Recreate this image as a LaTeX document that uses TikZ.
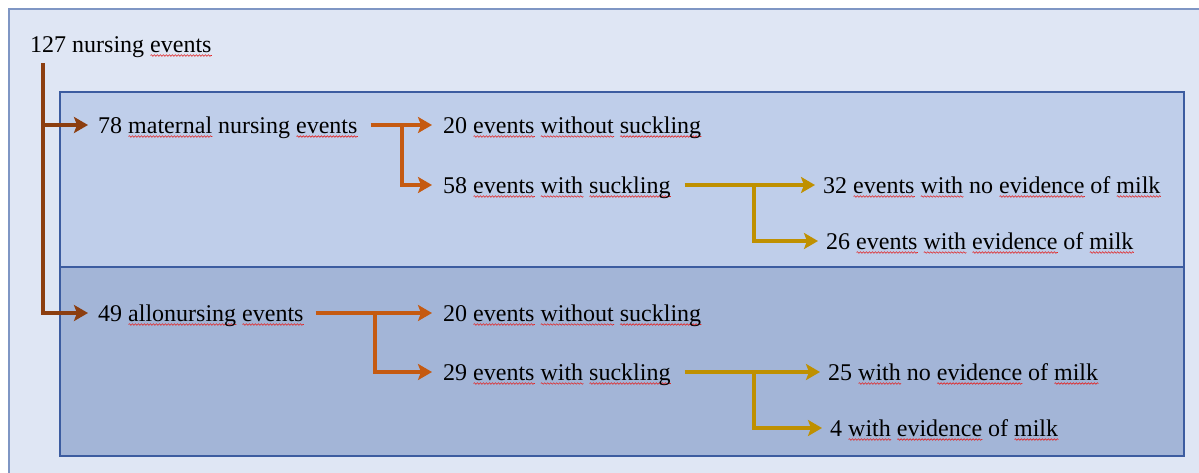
\documentclass[tikz,border=0pt]{standalone}
\usepackage{fontspec}
\setmainfont{Liberation Serif}
\newfontfamily\lblfont{Liberation Serif}
\usetikzlibrary{arrows.meta,decorations.pathmorphing}
\definecolor{outerbg}{RGB}{223,230,244}
\definecolor{outerline}{RGB}{127,150,196}
\definecolor{upperbg}{RGB}{191,206,234}
\definecolor{lowerbg}{RGB}{163,181,215}
\definecolor{boxline}{RGB}{60,92,160}
\definecolor{brownarr}{RGB}{140,62,16}
\definecolor{orangearr}{RGB}{197,90,17}
\definecolor{goldarr}{RGB}{191,144,0}
\definecolor{spellred}{RGB}{225,40,40}
\newsavebox\sqbox
\newlength\sqw
\newcommand{\sq}[1]{\sbox\sqbox{#1}\setlength\sqw{\wd\sqbox}\rlap{\tikz[baseline=0pt,x=1pt,y=1pt]\draw[spellred,line width=0.6pt,decorate,decoration={snake,amplitude=0.8pt,segment length=3pt}] (0,-3.5) -- (\sqw,-3.5);}\usebox\sqbox}
\begin{document}
\begin{tikzpicture}[x=1pt,y=-1pt,
	lbl/.style={anchor=base west,inner sep=0pt,text height=16pt,text depth=0pt,font=\lblfont\fontsize{24}{28}\selectfont},
	conn/.style={line width=4pt,-{Stealth[length=14pt,width=16pt,inset=3pt]}},
	brownconn/.style={conn,draw=brownarr,shorten >=10pt},
	orangeconn/.style={conn,draw=orangearr,shorten >=11pt},
	goldconn/.style={conn,draw=goldarr,shorten >=8pt},
	panel/.style={draw=boxline,line width=1.2pt}]
	\useasboundingbox (0,0) rectangle (1199,472);
	\clip (0,0) rectangle (1199,472);
	\fill[white] (0,0) rectangle (1199,472);
	\draw[fill=outerbg,draw=outerline,line width=1.5pt] (9,9) rectangle (1240,500);
	\draw[panel,fill=upperbg] (60,92) rectangle (1184,267);
	\draw[panel,fill=lowerbg] (60,267) rectangle (1184,456);

	\node[lbl] (all) at (30,52) {127 nursing \sq{events}};
	\node[lbl] (mat) at (98,133) {78 \sq{maternal} nursing \sq{events}};
	\node[lbl] (allo) at (98,321) {49 \sq{allonursing} \sq{events}};
	\node[lbl] (mwo) at (443,133) {20 \sq{events} \sq{without} \sq{suckling}};
	\node[lbl] (mws) at (443,193) {58 \sq{events} \sq{with} \sq{suckling}};
	\node[lbl] (m32) at (823,193) {32 \sq{events} \sq{with} no \sq{evidence} of \sq{milk}};
	\node[lbl] (m26) at (826,249) {26 \sq{events} \sq{with} \sq{evidence} of \sq{milk}};
	\node[lbl] (awo) at (443,321) {20 \sq{events} \sq{without} \sq{suckling}};
	\node[lbl] (aws) at (443,380) {29 \sq{events} \sq{with} \sq{suckling}};
	\node[lbl] (a25) at (828,380) {25 \sq{with} no \sq{evidence} of \sq{milk}};
	\node[lbl] (a4) at (830,436) {4 \sq{with} \sq{evidence} of \sq{milk}};

	\coordinate (trunk) at (43,63);
	\coordinate (mj) at (402,0);
	\coordinate (aj) at (375,0);
	\coordinate (gj) at (754,0);

	\draw[brownconn] (trunk) |- (allo.west);
	\draw[brownconn] (trunk |- mat.west) -- (mat.west);

	\draw[orangeconn,shorten <=13pt] (mat.east) -- (mwo.west);
	\draw[orangeconn] (mj |- mat.east) |- (mws.west);
	\draw[goldconn,shorten <=14pt] (mws.east) -- (m32.west);
	\draw[goldconn] (gj |- mws.east) |- (m26.west);

	\draw[orangeconn,shorten <=12pt] (allo.east) -- (awo.west);
	\draw[orangeconn] (aj |- allo.east) |- (aws.west);
	\draw[goldconn,shorten <=14pt] (aws.east) -- (a25.west);
	\draw[goldconn] (gj |- aws.east) |- (a4.west);
\end{tikzpicture}
\end{document}
